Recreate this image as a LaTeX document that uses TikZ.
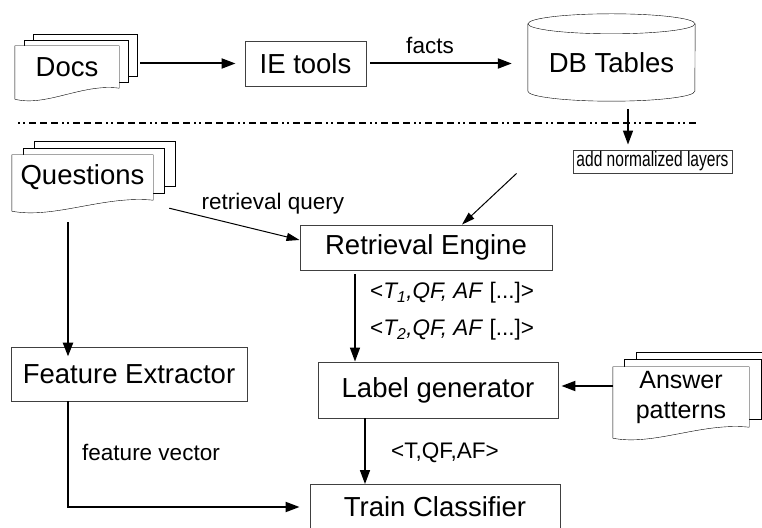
\documentclass[tikz,border=0pt]{standalone}
\usepackage{fontspec}
\setmainfont{Liberation Sans}
\newfontfamily\narrowfont[FakeStretch=0.74]{Liberation Sans}
\usetikzlibrary{arrows.meta,calc,backgrounds}
\def\docstack#1#2#3{%
	\draw[fill=white] ([shift={(2*#2,2*#3)}]#1.north west) rectangle ([shift={(2*#2,2*#3)}]#1.south east);
	\draw[fill=white] ([shift={(#2,#3)}]#1.north west) rectangle ([shift={(#2,#3)}]#1.south east);
	\draw[fill=white] (#1.south east) -- (#1.north east) -- (#1.north west) -- ($(#1.south west)+(0,-11)$)
		.. controls ($(#1.south west)!0.3!(#1.south east)+(0,-19)$) and ($(#1.south west)!0.65!(#1.south east)+(0,5)$) .. (#1.south east) -- cycle;
}
\tikzset{
	box/.style={draw=black!75, line width=0.9pt, inner sep=0pt, font=\fontsize{27.5}{30}\selectfont},
	sheet/.style={inner sep=0pt, align=center, font=\fontsize{27.5}{30}\selectfont},
	lbl/.style={inner sep=0pt, font=\fontsize{22.5}{26}\selectfont},
	arr/.style={line width=2pt, -{Triangle[length=14pt,width=10pt]}},
	thinarr/.style={line width=1pt, -{Triangle[length=13pt,width=8pt]}},
	sep/.style={line width=2pt, dash pattern=on 2pt off 3pt on 2pt off 4pt on 7pt off 4pt on 7pt off 4pt on 7pt off 4pt}
}

\begin{document}
\begin{tikzpicture}[x=1pt, y=1pt]
			%%%%% START %%%%%
			\useasboundingbox (0, 0) rectangle (762, 527);
			
			\node[sheet, minimum width=104, minimum height=42] (docs) at (67, 460) {Docs};
			\node[box, minimum width=121, minimum height=45] (ie) at (305.5, 463.5) {IE tools};
			\node[sheet, minimum width=167, minimum height=77] (db) at (611.5, 464.5) {DB Tables};
			
			\draw[sep] (18, 404) -- (697, 404);
			
			\node[box, minimum width=159, minimum height=23, font=\narrowfont\fontsize{21}{23}\selectfont] (norm) at (652.5, 365.5) {add normalized layers};
			\node[sheet, minimum width=141, minimum height=45] (questions) at (82.5, 349.5) {Questions};
			\node[box, minimum width=252, minimum height=45] (retr) at (426, 279.5) {Retrieval Engine};
			\node[box, minimum width=236, minimum height=54] (feat) at (129, 153) {Feature Extractor};
			\node[box, minimum width=240, minimum height=56] (labgen) at (438, 137) {Label generator};
			\node[sheet, minimum width=136, minimum height=60, font=\fontsize{25}{30}\selectfont] (answers) at (681, 130) {Answer\\patterns};
			\node[box, minimum width=250, minimum height=45] (train) at (435, 20) {Train Classifier};
			
			\begin{scope}[on background layer]
				\docstack{docs}{9}{6}
				\docstack{questions}{11}{7}
				\docstack{answers}{11.5}{7.5}
				\draw[fill=white] ($(db.north west)$) -- ($(db.south west)+(0,10)$) arc[start angle=180, end angle=360, x radius=83.5, y radius=10] -- (db.north east);
				\draw (db.north) ellipse[x radius=83.5, y radius=10];
			\end{scope}
			
			\draw[arr, shorten >=9pt] ([xshift=21pt]docs.east |- ie.west) -- (ie.west);
			\draw[arr, shorten <=4pt, shorten >=16pt] (ie.east) -- (ie.east -| db.west);
			\node[lbl] (factslbl) at (430, 482) {facts};
			
			\draw[arr, line width=1.5pt, shorten >=5pt] ([shift={(16.5,-8)}]db.south) -- ([xshift=16.5pt]db.south |- norm.north);
			\draw[thinarr] ([xshift=-56pt]norm.south west) -- ([xshift=36pt]retr.north);
			
			\draw[thinarr] ([shift={(16,-8)}]questions.south east) -- ([yshift=7.5pt]retr.west);
			\node[lbl] (querylbl) at (273, 323) {retrieval query};
			
			\draw[arr, line width=2.5pt, shorten >=12pt] ([shift={(-14.5,-22)}]questions.south) -- ([shift={(-14.5,-22)}]questions.south |- feat.north);
			
			\draw[arr, line width=1.5pt, shorten <=4pt] ([xshift=-71pt]retr.south) -- ([xshift=-71pt]retr.south |- labgen.north);
			\node[lbl, anchor=west] (tonelbl) at (370, 234) {<\textit{T\textsubscript{1},QF, AF} [...]>};
			\node[lbl, anchor=west] (ttwolbl) at (370, 197) {<\textit{T\textsubscript{2},QF, AF} [...]>};
			
			\draw[arr, shorten >=3pt] ([yshift=11pt]answers.west) -- ([yshift=11pt]answers.west -| labgen.east);
			
			\draw[arr, line width=1.5pt] ([xshift=-73pt]labgen.south) -- ([xshift=-73pt]labgen.south |- train.north);
			\node[lbl] (tuplelbl) at (445, 74) {<T,QF,AF>};
			
			\draw[arr, shorten >=10pt] ([xshift=-61pt]feat.south) |- (train.west);
			\node[lbl] (veclbl) at (151, 75) {feature vector};
			
			%%%%% END %%%%%
		\end{tikzpicture}
\end{document}
